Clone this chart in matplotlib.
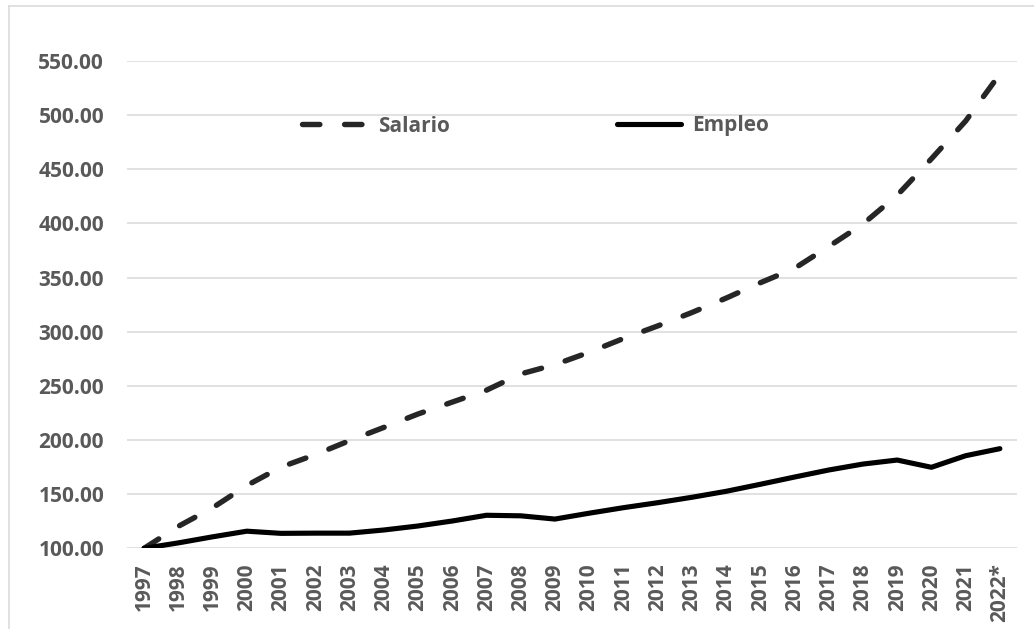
import matplotlib
matplotlib.use("Agg")
import matplotlib.pyplot as plt
from matplotlib.lines import Line2D
from matplotlib.ticker import FuncFormatter, FixedLocator

years = ["1997", "1998", "1999", "2000", "2001", "2002", "2003", "2004", "2005",
         "2006", "2007", "2008", "2009", "2010", "2011", "2012", "2013", "2014",
         "2015", "2016", "2017", "2018", "2019", "2020", "2021", "2022*"]
salario = [100, 120.3, 137.4, 158, 175, 186.5, 199.4, 211.6, 224, 235, 246,
           261, 269.6, 281, 293.7, 305.3, 317.7, 331, 345.2, 358.5, 378.7,
           399.5, 426, 459.7, 494.6, 538]
empleo = [100, 105, 110.6, 115.8, 113.8, 114, 114, 116.9, 120.6, 125.2, 130.5,
          130, 127, 132.4, 137.5, 142.1, 147.1, 152.6, 159.1, 165.8, 172.3,
          177.8, 181.5, 174.8, 185.5, 192]
yticks = [100, 150, 200, 250, 300, 350, 400, 450, 500, 550]
series_names = ["Salario", "Empleo"]

plt.rcParams['lines.scale_dashes'] = False
plt.rcParams['font.family'] = ['Open Sans', 'DejaVu Sans']

W, H = 1034, 629
fig = plt.figure(figsize=(W / 100, H / 100), dpi=100)
ax = fig.add_axes([127 / W, 1 - 548.3 / H, (1017 - 127) / W, (548.3 - 61) / H])

x = list(range(len(years)))
ax.plot(x, salario, color="#262626", lw=3.9, dashes=(12.5, 17.8),
        dash_capstyle='round', solid_capstyle='round', label=series_names[0])
ax.plot(x, empleo, color="#000000", lw=3.7, solid_capstyle='round',
        solid_joinstyle='round', label=series_names[1])

ax.set_xlim(-0.5, len(years) - 0.5)
ax.set_ylim(100, 550)
ax.yaxis.set_major_locator(FixedLocator(yticks))
ax.yaxis.set_major_formatter(FuncFormatter(lambda v, p: f"{v:.2f}"))
ax.set_xticks(x)
ax.set_xticklabels(years, rotation=90)

ax.grid(axis='y', color="#d9d9d9", lw=1.1)
ax.set_axisbelow(True)
for s in ax.spines.values():
    s.set_visible(False)
ax.tick_params(axis='both', length=0, labelcolor="#595959", labelsize=15.0)
ax.tick_params(axis='y', pad=16.5)
ax.tick_params(axis='x', pad=11)
for lab in ax.get_xticklabels() + ax.get_yticklabels():
    lab.set_fontweight('bold')
for lab in ax.get_xticklabels():
    lab.set_va('top')

# legend
h1 = Line2D([], [], color="#262626", lw=3.9, dashes=(12.5, 17.8), dash_capstyle='round')
h2 = Line2D([], [], color="#000000", lw=3.7, solid_capstyle='round')
leg = ax.legend([h1, h2], series_names, loc='center left',
                bbox_to_anchor=(302 / W, 1 - 126 / H), bbox_transform=fig.transFigure,
                ncol=2, frameon=False, borderpad=0, borderaxespad=0,
                handlelength=3.1, handletextpad=0.55, columnspacing=8.0,
                prop={'weight': 'bold', 'size': 15.0})
for t in leg.get_texts():
    t.set_color("#595959")

# chart border (top and left edges visible)
fig.add_artist(Line2D([8.5 / W, 1.0], [1 - 6 / H, 1 - 6 / H], transform=fig.transFigure,
                      color="#d9d9d9", lw=1.1))
fig.add_artist(Line2D([8.5 / W, 8.5 / W], [1 - 6 / H, 0.0], transform=fig.transFigure,
                      color="#d9d9d9", lw=1.1))

fig.savefig("out.png", dpi=100, facecolor="white")
